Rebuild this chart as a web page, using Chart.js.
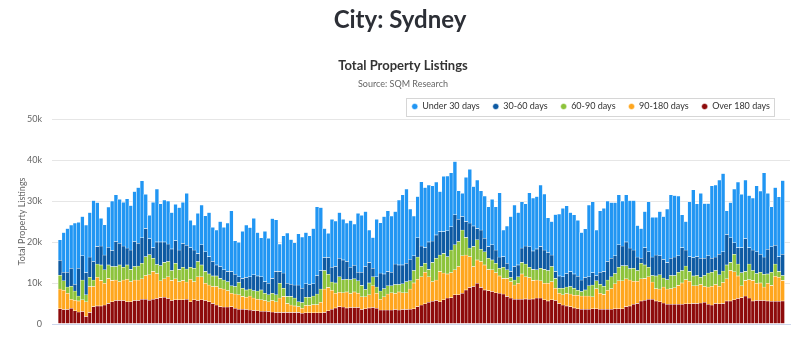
<!DOCTYPE html>
<html>
<head>
<meta charset="utf-8">
<script src="https://cdn.jsdelivr.net/npm/chart.js@4.4.1/dist/chart.umd.min.js"></script>
<style>
html,body{margin:0;padding:0;background:#fff;}
#wrap{position:relative;width:800px;height:356px;overflow:hidden;background:#fff;}
#c{position:absolute;left:0;top:0;width:800px;height:356px;}
#city{position:absolute;left:0;top:0;width:800px;height:38px;line-height:38px;margin:0;text-align:center;
  font-family:Lato,"Open Sans",sans-serif;font-weight:700;font-size:24px;color:#2c2f36;z-index:2;}
</style>
</head>
<body>
<div id="wrap">
  <canvas id="c" width="800" height="356"></canvas>
  <h1 id="city">City: Sydney</h1>
</div>
<script>
// ---- data (monthly, Jan 2010 .. Mar 2026) ----
const startYear = 2010;
const seriesNames = ['Over 180 days', '90-180 days', '60-90 days', '30-60 days', 'Under 30 days'];
const seriesColors = ['#8e0b0b', '#ffa61e', '#8dc33b', '#0d5aa3', '#2196f3'];

const over180Days = [
3700,3500,3500,3800,3200,2900,3000,1800,2800,4200,4400,4400,
4600,5000,5400,5700,5700,5700,5400,5400,5700,5700,6000,6000,
5800,6000,6200,6400,6500,6200,5700,5900,5900,5900,6000,5400,
5900,5700,5900,5700,5400,5000,4600,4200,4100,4100,4200,3800,
3600,3600,3500,3400,3300,3200,3100,3100,3000,2900,2800,2800,
2800,2800,2800,2800,2800,2600,2700,2700,2700,2700,2700,2800,
3200,3600,3900,4200,4100,3900,4000,4000,4000,3500,3700,3900,
4000,3800,3400,3400,3400,3400,3500,3400,3500,3500,3600,3700,
4200,4600,4900,5300,5500,5700,5400,5900,6300,6400,7100,7100,
7500,8300,8900,9100,9900,8900,8300,8100,7900,7600,7500,7300,
6700,6300,6000,6000,6000,6100,6000,6100,6300,6300,5900,5600,
5900,5700,5000,4600,4400,4200,3900,3700,3600,3600,3600,3700,
3700,3600,3600,3600,3600,3700,3700,3700,4200,4400,4800,5000,
5600,5800,6000,6000,5600,5400,5100,4800,4800,4800,4800,4800,
4900,4900,5000,5000,5100,5300,4800,4600,5000,4900,5000,5600,
5600,5900,6200,6400,6800,6300,5600,5700,5700,5700,5600,5500,
5500,5500,5600];

const days90to180 = [
4800,4700,4000,2200,2600,2700,2900,3600,6300,4900,7000,6200,
5300,6100,5200,5000,4600,5000,5500,4900,5000,5000,5000,5800,
6200,6800,6100,4100,4500,5300,4900,5100,4400,4700,4200,5500,
4400,5800,5600,4200,4100,4100,4500,4500,4400,4000,3300,3500,
3500,3100,3000,3400,3000,2800,2800,2600,2400,2800,2600,3500,
3900,2200,1800,1600,1400,1200,1800,1800,2000,2000,2600,5700,
5700,4600,3600,3500,3500,3900,3400,3800,3500,3100,2900,3200,
5300,3700,2600,3200,3900,4200,3900,4400,4100,4100,4900,6300,
6700,6900,7700,6200,4800,5000,7400,6500,5900,6100,6100,6900,
9100,8500,7500,4900,5700,6300,6100,5200,5300,4900,4200,3800,
4400,4000,3500,3900,6200,5400,5300,4500,4400,4200,4000,4300,
4400,3000,2500,2500,3000,3100,3100,3300,3200,3200,3200,2900,
4900,3900,3600,4600,5000,6100,6800,6800,6800,6300,5600,5400,
5400,5300,5500,4200,3000,3100,3900,3700,3800,4000,4600,5200,
5900,5500,4300,4300,4500,3800,4200,4600,4600,4300,5100,5400,
7400,6800,5500,2900,3800,4500,5000,4200,4300,3300,4300,3900,
6100,5900,5000];

const days60to90 = [
3400,2300,1500,3200,2200,1200,4800,1700,2300,1600,3200,3800,
3300,3300,3400,3300,4100,3100,3500,3000,3300,3400,3800,4600,
4900,3200,2200,3700,4000,3700,2400,3800,3000,3200,3200,2900,
3300,3700,2900,2900,2700,2600,2600,2400,2200,2200,1800,1800,
3000,2000,1800,1700,1800,2000,2400,1800,1700,1800,1700,3600,
2000,1700,2100,1900,1200,1400,2000,2000,2100,2600,3200,4500,
3200,2000,2500,3800,3200,3100,3400,3200,3000,2800,1800,2900,
2200,1500,2000,2000,2000,1700,2200,1800,2200,2700,2000,3000,
5400,2500,2200,1800,4700,5300,4000,4800,4200,5500,6100,6100,
6300,4300,2100,4900,4900,3000,3200,2700,2400,2300,1900,2700,
2100,1000,1200,1600,2800,3100,2500,2700,2500,3100,3400,3100,
3700,2400,1200,1600,1600,1800,1700,1200,1100,1500,2500,2900,
1900,2200,2000,2500,2900,2500,3300,3700,3200,2800,3200,2600,
3800,3300,2300,1600,3100,3500,2200,2300,3200,3000,3200,3000,
3300,2400,2400,2500,1800,2700,3400,3400,3400,2800,2800,3400,
2000,4300,2900,3200,2200,3800,2400,2400,2600,3100,2300,3200,
3000,1400,1200];

const days30to60 = [
3600,2100,3600,4400,1700,6800,5900,5400,4900,4500,4300,4600,
3600,4300,3900,6100,5300,5200,4100,4700,6100,5600,6200,6900,
3900,2600,5500,5800,5000,4300,5300,5500,4700,5800,5800,4800,
4400,2000,4900,4800,4200,3500,2700,2900,2500,2500,3500,3000,
1400,2400,3000,3000,3900,3700,3200,2800,2800,3600,5700,2900,
3700,3200,3000,3200,4100,3500,3300,3100,3000,4500,4500,3200,
4100,3600,4000,4500,4800,4300,3000,3300,2100,3200,5600,5000,
2100,2500,4400,3600,3500,3300,5000,4800,4600,4500,5300,3600,
4700,5000,3800,6700,5200,5700,5700,5300,6300,5700,7300,5400,
3300,3900,6100,5000,2800,4700,3300,2900,3700,3200,2700,2600,
1600,1500,3300,2900,3500,4400,5000,4500,5100,5300,4700,4400,
2800,1700,3000,2800,3300,3700,3500,3400,2800,3000,2200,3000,
1300,2900,3600,4500,4500,4300,5500,4800,5800,5000,4400,3300,
1200,4200,3800,4500,5100,4600,4500,4200,4200,4500,4000,5600,
3900,3600,4500,4600,4600,4200,4200,3400,3300,5000,4700,7400,
6000,2800,4000,6100,8000,4000,5000,5300,4400,4200,6000,6200,
4600,3600,5200];

const under30Days = [
5000,9700,10700,10500,14900,11200,9600,11600,10900,14900,10700,6800,
7400,9800,12100,11400,10700,10700,12000,10900,12200,13600,13900,8300,
5700,11100,12900,9300,10200,10500,8900,8900,10400,10100,12700,6700,
6100,9800,9700,8800,10800,8400,8500,11000,10400,11800,14800,8200,
8400,11500,12800,12000,13800,10600,9500,12300,11000,14600,12600,6700,
9100,12300,10900,10300,12500,12500,12500,11900,13500,16800,15400,7100,
5900,11700,11100,11200,9900,9400,11400,10100,14400,13900,13400,7900,
7500,14000,12300,14000,14800,13700,12800,15800,17100,18100,12200,9700,
10100,15700,14700,13900,13500,12900,9800,13500,13400,13200,13000,7000,
5700,10800,13100,9600,11800,9600,10300,9700,11100,10600,15700,6500,
9100,13400,15000,12800,11300,10300,13200,12900,12800,15000,13700,8500,
8200,13900,15100,16700,16500,14400,14400,13700,11600,11900,17500,17300,
11100,15000,15400,14800,13600,13000,12200,11000,11500,11600,12100,7700,
7300,8800,12200,9700,9200,10800,10500,13000,15500,15000,14600,8000,
7000,13400,16500,12900,15900,13400,12800,17700,17600,18100,19100,5800,
8600,13100,16000,13000,14300,12700,12700,16100,15400,20600,13700,9800,
14100,14600,18000];

const yTicks = [0, 10000, 20000, 30000, 40000, 50000];

// month categories "YYYY-MM" and their positions on a year axis
const months = under30Days.map((_, i) =>
  (startYear + Math.floor(i / 12)) + '-' + String(i % 12 + 1).padStart(2, '0'));
const monthPos = months.map(m => {
  const [y, mo] = m.split('-').map(Number);
  return y + (mo - 1) / 12;
});

const seriesValues = [over180Days, days90to180, days60to90, days30to60, under30Days];

Chart.defaults.font.family = 'Lato, "Open Sans", sans-serif';

const datasets = seriesValues.map((vals, k) => ({
  label: seriesNames[k],
  data: vals.map((v, i) => ({x: monthPos[i], y: v})),
  backgroundColor: seriesColors[k],
  borderColor: '#ffffff',
  borderWidth: 0.5,
  borderSkipped: false,
  barPercentage: 1,
  categoryPercentage: 1
}));

const legendShift = {
  id: 'legendShift',
  afterLayout(chart) {
    const lg = chart.legend;
    if (lg) { lg.left -= 7; lg.right -= 7; }
  }
};

const legendBorder = {
  id: 'legendBorder',
  afterDraw(chart) {
    const lg = chart.legend;
    const hb = lg && lg.legendHitBoxes;
    if (!hb || !hb.length) return;
    const first = hb[0], last = hb[hb.length - 1];
    const l = Math.round(first.left - 6) + 0.5;
    const r = Math.round(last.left + last.width + 4) + 0.5;
    const cy = first.top + first.height / 2;
    const t = Math.round(cy - 9) + 0.5;
    const ctx = chart.ctx;
    ctx.save();
    ctx.strokeStyle = '#d6d6d6';
    ctx.lineWidth = 1;
    ctx.strokeRect(l, t, r - l, 18);
    ctx.restore();
  }
};

new Chart(document.getElementById('c'), {
  type: 'bar',
  data: {datasets},
  plugins: [legendShift, legendBorder],
  options: {
    responsive: false,
    devicePixelRatio: 1,
    animation: false,
    events: [],
    layout: {padding: {top: 50, left: 16, right: 10, bottom: 0}},
    plugins: {
      title: {
        display: true,
        text: 'Total Property Listings',
        color: '#333333',
        font: {size: 13, weight: 'bold', lineHeight: 1},
        padding: {top: 6, bottom: 4}
      },
      subtitle: {
        display: true,
        text: 'Source: SQM Research',
        color: '#666666',
        font: {size: 9, lineHeight: 1},
        padding: {top: 3.5, bottom: 0}
      },
      legend: {
        display: true,
        position: 'top',
        align: 'end',
        reverse: true,
        maxHeight: 30,
        labels: {
          usePointStyle: true,
          pointStyle: 'circle',
          boxWidth: 6,
          boxHeight: 4.3,
          padding: 13,
          color: '#333333',
          font: {size: 9}
        }
      },
      tooltip: {enabled: false}
    },
    scales: {
      x: {
        type: 'linear',
        stacked: true,
        bounds: 'data',
        offset: false,
        min: 2009.82,
        max: 2026.33,
        ticks: {
          stepSize: 1,
          includeBounds: false,
          autoSkip: false,
          maxRotation: 0,
          padding: 5,
          color: '#666666',
          font: {size: 9},
          callback: v => Number.isInteger(v) ? String(v) : null
        },
        grid: {display: true, offset: false, drawOnChartArea: false, drawTicks: true, tickLength: 5, color: '#ccd6eb'},
        border: {display: true, color: '#ccd6eb'},
        afterFit: s => { s.height = 32; }
      },
      y: {
        stacked: true,
        min: 0,
        max: 50000,
        afterBuildTicks: s => { s.ticks = yTicks.map(v => ({value: v})); },
        ticks: {
          padding: 10,
          color: '#666666',
          font: {size: 9},
          callback: v => v === 0 ? '0' : (v / 1000) + 'k'
        },
        grid: {color: '#e6e6e6', drawTicks: false},
        border: {display: false},
        title: {
          display: true,
          text: 'Total Property Listings',
          color: '#666666',
          font: {size: 9},
          padding: {top: 1, bottom: 0}
        },
        afterFit: s => { s.width = 36; s.paddingTop = 119; }
      }
    }
  }
});
</script>
</body>
</html>
